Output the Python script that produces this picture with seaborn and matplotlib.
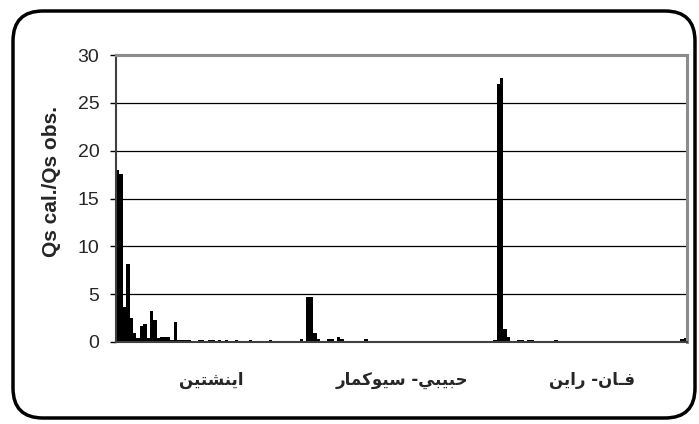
import numpy as np
import pandas as pd
import seaborn as sns
import matplotlib.pyplot as plt
from matplotlib.patches import FancyBboxPatch

# الطرق الثلاث (ترتيب منطقي للنص)
methods = ['اينشتين', 'حبيبي- سيوكمار', 'فـان- راين']

# نسبة Qs cal./Qs obs. لكل عينة (56 عينة لكل طريقة، مقروءة من الرسم)
einstein = [18.0, 17.6, 3.7, 8.2, 2.5, 0.9, 0.4, 1.7, 1.85, 0.45,
            3.2, 2.3, 0.4, 0.55, 0.55, 0.55, 0.2, 2.05, 0.2, 0.2,
            0.2, 0.2, 0, 0, 0.2, 0.2, 0, 0.2, 0.2, 0,
            0.2, 0, 0.2, 0, 0, 0.2, 0, 0, 0, 0.2,
            0, 0, 0, 0, 0, 0.2, 0, 0, 0, 0,
            0, 0, 0, 0, 0.3, 0]
habibi = [4.7, 4.7, 0.9, 0.3, 0, 0, 0.3, 0.3, 0, 0.5,
          0.3, 0, 0, 0, 0, 0, 0, 0.3, 0, 0,
          0, 0, 0, 0, 0, 0, 0, 0, 0, 0,
          0, 0, 0, 0, 0, 0, 0, 0, 0, 0,
          0, 0, 0, 0, 0, 0, 0, 0, 0, 0,
          0, 0, 0, 0, 0, 0.2]
vanrijn = [27.0, 27.6, 1.4, 0.5, 0, 0, 0.2, 0.2, 0, 0.2,
           0.2, 0, 0, 0, 0, 0, 0, 0.25, 0, 0,
           0, 0, 0, 0, 0, 0, 0, 0, 0, 0,
           0, 0, 0, 0, 0, 0, 0, 0, 0, 0,
           0, 0, 0, 0, 0, 0, 0, 0, 0, 0,
           0, 0, 0, 0, 0.3, 0.45]
yticks = [0, 5, 10, 15, 20, 25, 30]

n = len(einstein)

# matplotlib لا يشكّل الحروف العربية، لذلك نحولها يدويا الى أشكال العرض
FORMS = {
    'ا': ('\uFE8D', '\uFE8E', None, None),
    'ب': ('\uFE8F', '\uFE90', '\uFE91', '\uFE92'),
    'ت': ('\uFE95', '\uFE96', '\uFE97', '\uFE98'),
    'ح': ('\uFEA1', '\uFEA2', '\uFEA3', '\uFEA4'),
    'ر': ('\uFEAD', '\uFEAE', None, None),
    'س': ('\uFEB1', '\uFEB2', '\uFEB3', '\uFEB4'),
    'ش': ('\uFEB5', '\uFEB6', '\uFEB7', '\uFEB8'),
    'ف': ('\uFED1', '\uFED2', '\uFED3', '\uFED4'),
    'ك': ('\uFED9', '\uFEDA', '\uFEDB', '\uFEDC'),
    'م': ('\uFEE1', '\uFEE2', '\uFEE3', '\uFEE4'),
    'ن': ('\uFEE5', '\uFEE6', '\uFEE7', '\uFEE8'),
    'و': ('\uFEED', '\uFEEE', None, None),
    'ي': ('\uFEF1', '\uFEF2', '\uFEF3', '\uFEF4'),
}
TATWEEL = 'ـ'


def shape(text):
    def joins_forward(c):
        return c == TATWEEL or (c in FORMS and FORMS[c][2] is not None)

    def is_letter(c):
        return c == TATWEEL or c in FORMS

    out = []
    for i, c in enumerate(text):
        if c not in FORMS:
            out.append(c)
            continue
        iso, fin, ini, med = FORMS[c]
        prev_j = i > 0 and joins_forward(text[i - 1])
        next_j = ini is not None and i + 1 < len(text) and is_letter(text[i + 1])
        if prev_j and next_j:
            out.append(med)
        elif prev_j:
            out.append(fin)
        elif next_j:
            out.append(ini)
        else:
            out.append(iso)
    return ''.join(reversed(out))


df = pd.DataFrame({
    'method': np.repeat(methods, n),
    'sample': [f's{i:02d}' for i in range(n)] * 3,
    'ratio': einstein + habibi + vanrijn,
})

sns.set_style('white')
plt.rcParams['font.family'] = ['Liberation Sans', 'DejaVu Sans']

fig = plt.figure(figsize=(6.99, 4.24), dpi=100)
ax = fig.add_axes([116 / 699, 1 - 342 / 424, (687 - 116) / 699, (342 - 55) / 424])

sns.barplot(data=df, x='method', y='ratio', hue='sample', order=methods,
            palette=['black'] * n, width=1.0, gap=0, errorbar=None,
            saturation=1, linewidth=0, legend=False, ax=ax)

ax.set_xlim(-0.5, 2.5)
ax.set_ylim(0, 30)
ax.set_yticks(yticks)
ax.yaxis.grid(True, color='black', linewidth=0.9)
ax.set_axisbelow(True)

# محور x: علامات عند حدود المجموعات والتسميات في الوسط
ax.set_xticks(range(len(methods)))
ax.set_xticklabels([shape(m) for m in methods], family=['DejaVu Sans'],
                   fontweight='bold', fontsize=12)
ax.set_xticks([-0.5, 0.5, 1.5, 2.5], minor=True)
ax.tick_params(axis='x', which='major', length=0, pad=21)
ax.tick_params(axis='x', which='minor', length=5, width=1, color='black', direction='out')
ax.tick_params(axis='y', length=4, width=1, color='black', direction='out',
               labelsize=14, pad=8, left=True)
ax.set_xlabel('')
ax.set_ylabel('Qs cal./Qs obs.', fontsize=15, fontweight='bold', labelpad=12)
ax.yaxis.label.set_y(0.56)

for side in ['top', 'right']:
    ax.spines[side].set_color('#8c8c8c')
    ax.spines[side].set_linewidth(2.2)
for side in ['left', 'bottom']:
    ax.spines[side].set_color('#404040')
    ax.spines[side].set_linewidth(1.5)

# الإطار الخارجي ذو الزوايا المستديرة
frame = FancyBboxPatch((0.13, 0.06), 6.82, 4.07,
                       boxstyle='round,pad=0,rounding_size=0.3',
                       transform=fig.dpi_scale_trans, fill=False,
                       edgecolor='black', linewidth=2.5)
fig.add_artist(frame)

fig.savefig('out.png', dpi=100)
